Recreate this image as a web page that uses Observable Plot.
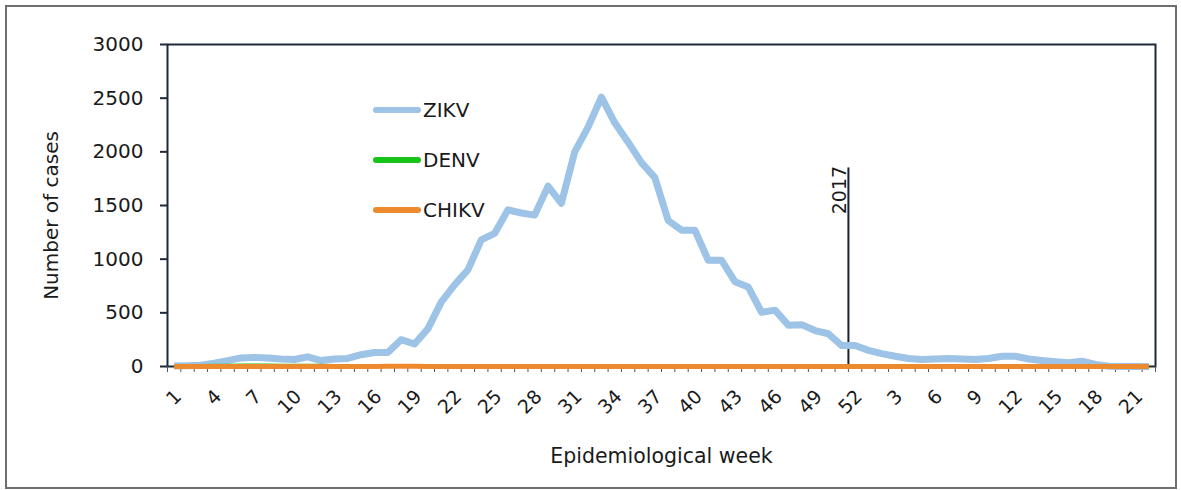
<!DOCTYPE html>
<html>
<head>
<meta charset="utf-8">
<script src="https://cdn.jsdelivr.net/npm/d3@7"></script>
<script src="https://cdn.jsdelivr.net/npm/@observablehq/plot@0.6"></script>
<style>
  html, body { margin: 0; padding: 0; background: #fff; }
  #wrap { position: relative; width: 1181px; height: 490px; overflow: hidden; font-family: "DejaVu Sans", sans-serif; color: #1a1a1a; }
  #border { position: absolute; left: 5px; top: 5px; width: 1168px; height: 480px; border: 2px solid #6e6e6e; pointer-events: none; }
  #legend { position: absolute; left: 373px; top: 95px; font-size: 20px; }
  .row { display: flex; align-items: center; height: 30px; margin-bottom: 20px; }
  .sw { width: 48px; height: 6px; border-radius: 3px; margin-right: 2px; }
</style>
</head>
<body>
<div id="wrap">
  <div id="chart"></div>
  <div id="legend"></div>
  <div id="border"></div>
</div>
<script>
// Epidemiological weeks: 2016 weeks 1–52, then 2017 weeks 1–22
const weeks2016 = d3.range(1, 53);
const weeks2017 = d3.range(1, 23);

// ZIKV weekly cases
const zikv2016 = [5, 8, 12, 30, 55, 80, 85, 80, 70, 65, 90, 55, 70, 75, 110, 130, 130, 250, 210, 350,
  600, 760, 900, 1180, 1240, 1460, 1430, 1410, 1680, 1520, 2000, 2230, 2510, 2270, 2090, 1900, 1760, 1360, 1270, 1270,
  990, 990, 790, 740, 505, 525, 385, 390, 335, 305, 195, 195];
const zikv2017 = [150, 120, 95, 75, 65, 70, 75, 70, 65, 75, 95, 95, 70, 55, 45, 35, 50, 20, 2, 0, 0, 0];

// DENV weekly cases
const denv2016 = [2, 3, 4, 6, 8, 10, 10, 9, 8, 7, 8, 6, 5, 5, 5, 4, 4, 5, 4, 4,
  3, 3, 3, 3, 2, 2, 2, 2, 2, 2, 2, 2, 2, 2, 2, 2, 2, 2, 2, 2,
  2, 2, 2, 2, 2, 2, 2, 2, 2, 2, 1, 1];
const denv2017 = [1, 1, 1, 1, 1, 1, 1, 1, 1, 1, 1, 1, 1, 1, 1, 1, 1, 1, 0, 0, 0, 0];

// CHIKV weekly cases
const chikv2016 = [0, 0, 1, 1, 1, 1, 1, 1, 1, 1, 1, 1, 1, 1, 1, 1, 2, 3, 2, 1,
  1, 1, 1, 1, 1, 1, 1, 1, 1, 1, 1, 1, 1, 1, 1, 1, 1, 1, 1, 1,
  1, 1, 1, 1, 1, 1, 1, 1, 1, 1, 1, 1];
const chikv2017 = [1, 1, 1, 1, 1, 1, 1, 1, 1, 1, 1, 1, 1, 1, 1, 1, 1, 1, 0, 0, 0, 0];

const seriesNames = ["ZIKV", "DENV", "CHIKV"];
const seriesColors = ["#9dc3e6", "#19c419", "#ee8a2e"];
const seriesWidths = [7, 4, 5];

const yTicks = [0, 500, 1000, 1500, 2000, 2500, 3000];
const labelEvery = 3;
const yearMarker = { label: "2017", beforeWeekIndex: 51, top: 1850 };

// Build table
const weekLabels = [...weeks2016, ...weeks2017];
const values = {
  ZIKV: [...zikv2016, ...zikv2017],
  DENV: [...denv2016, ...denv2017],
  CHIKV: [...chikv2016, ...chikv2017]
};
const rows = [];
for (const name of seriesNames) {
  values[name].forEach((v, i) => rows.push({ i, v, s: name }));
}
const n = weekLabels.length;
const labelIdx = d3.range(0, n, labelEvery);
const font = "DejaVu Sans";
const ink = "#1a1a1a";
const axisInk = "#1e2a38";

const marks = [
  Plot.frame({ stroke: axisInk, strokeWidth: 2 }),
  Plot.axisX({ ticks: d3.range(-0.5, n, 1), tickSize: 6, tickFormat: () => "", stroke: "#555", strokeWidth: 1, label: null }),
  Plot.text(labelIdx, { x: d => d, y: 0, text: d => String(weekLabels[d]), rotate: -45,
    textAnchor: "end", lineAnchor: "middle", dx: 4, dy: 27, fontSize: 19, fill: ink }),
  Plot.axisY({ ticks: yTicks, tickSize: 7, tickPadding: 17, fontSize: 20, fill: ink, stroke: axisInk, strokeWidth: 2, label: null, tickFormat: d => String(d) }),
  Plot.ruleX([yearMarker], { x: d => d.beforeWeekIndex - 0.5, y1: 0, y2: d => d.top, stroke: "#1a2230", strokeWidth: 2 }),
  Plot.text([yearMarker], { x: d => d.beforeWeekIndex - 0.5, y: d => d.top, text: d => d.label, rotate: -90,
    textAnchor: "end", lineAnchor: "bottom", dx: -2, dy: -2, fontSize: 19, fill: ink }),
];
seriesNames.forEach((name, k) => {
  marks.push(Plot.line(rows.filter(r => r.s === name), {
    x: "i", y: "v", stroke: seriesColors[k], strokeWidth: seriesWidths[k], strokeLinejoin: "round", strokeLinecap: "butt"
  }));
});
marks.push(Plot.text(["Number of cases"], { frameAnchor: "left", textAnchor: "middle", dx: -116, dy: 10, rotate: -90, fontSize: 20, fill: ink }));
marks.push(Plot.text(["Epidemiological week"], { frameAnchor: "bottom", textAnchor: "middle", dy: 96, fontSize: 20.5, fill: ink }));

const chart = Plot.plot({
  width: 1181,
  height: 490,
  marginLeft: 167,
  marginRight: 26,
  marginTop: 44,
  marginBottom: 124,
  style: { fontFamily: font, background: "white", color: ink },
  x: { type: "linear", domain: [-0.5, n - 0.5], axis: null },
  y: { domain: [0, 3000], axis: null },
  marks
});
document.getElementById("chart").appendChild(chart);

// Legend (inside plot area, like the reference)
const legend = document.getElementById("legend");
seriesNames.forEach((name, k) => {
  const row = document.createElement("div");
  row.className = "row";
  const sw = document.createElement("div");
  sw.className = "sw";
  sw.style.background = seriesColors[k];
  const t = document.createElement("span");
  t.textContent = name;
  row.appendChild(sw);
  row.appendChild(t);
  legend.appendChild(row);
});
</script>
</body>
</html>
